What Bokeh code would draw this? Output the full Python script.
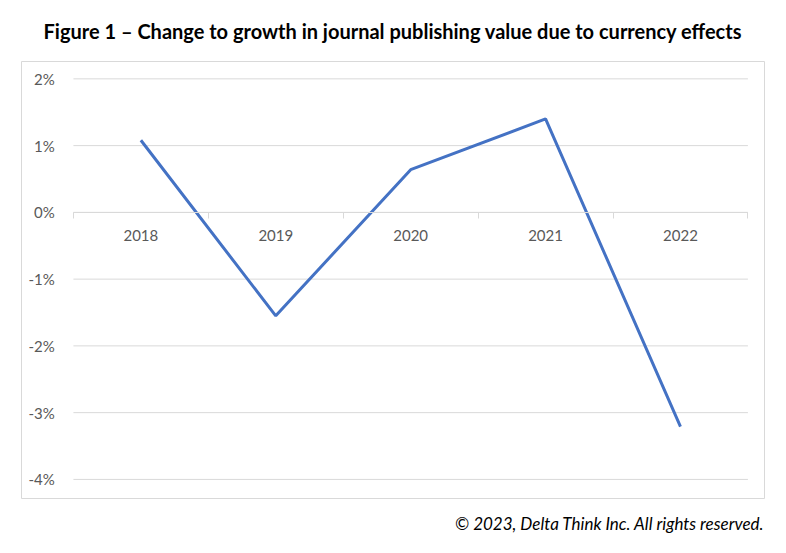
from bokeh.plotting import figure
from bokeh.models import Range1d, LinearAxis, FixedTicker, Title
from bokeh.core.properties import value
from bokeh.embed import file_html
from bokeh.resources import INLINE

years = ["2018", "2019", "2020", "2021", "2022"]
change_pct = [1.08, -1.55, 0.64, 1.40, -3.21]
y_ticks = [2, 1, 0, -1, -2, -3, -4]
y_tick_labels = ["2%", "1%", "0%", "-1%", "-2%", "-3%", "-4%"]
title_text = "Figure 1 \u2013 Change to growth in journal publishing value due to currency effects"
credit_text = "\u00a9 2023, Delta Think Inc. All rights reserved."

n = len(years)
xs = [i + 0.5 for i in range(n)]

GRID = "#D9D9D9"
LABEL = "#595959"
FONT = "Lato"

p = figure(
    output_backend="svg", toolbar_location=None,
    frame_width=743, frame_height=437,
    min_border_left=21, min_border_right=14, min_border_top=61, min_border_bottom=47,
    x_range=Range1d(-0.385, n + 0.123), y_range=Range1d(-4.286, 2.260),
    x_axis_location=None, y_axis_location=None,
)
p.grid.visible = False
p.outline_line_color = GRID
p.outline_line_width = 1

title = Title(text=title_text, align="center", vertical_align="top",
              text_font=FONT, text_font_style="bold", text_font_size="20px",
              text_color="#000000", standoff=34)
p.add_layout(title, "above")

# gridlines
p.segment(x0=[0] * len(y_ticks), x1=[n] * len(y_ticks), y0=y_ticks, y1=y_ticks,
          line_color=GRID, line_width=1)

# y labels
p.text(x=[-0.1385] * len(y_ticks), y=y_ticks, text=y_tick_labels,
       text_align="right", text_baseline="middle",
       text_font=value(FONT), text_font_size="15px", text_color=LABEL)

# x axis at y = 0
xaxis = LinearAxis(
    ticker=FixedTicker(ticks=xs, minor_ticks=list(range(n + 1))),
    major_label_overrides={x: y for x, y in zip(xs, years)},
    fixed_location=0, bounds=(0, n),
)
xaxis.axis_line_color = GRID
xaxis.major_tick_line_color = None
xaxis.major_tick_out = 0
xaxis.major_tick_in = 0
xaxis.minor_tick_line_color = GRID
xaxis.minor_tick_out = 6
xaxis.minor_tick_in = 0
xaxis.major_label_standoff = 12
xaxis.major_label_text_font = FONT
xaxis.major_label_text_font_size = "15px"
xaxis.major_label_text_color = LABEL
p.add_layout(xaxis, "below")

p.line(xs, change_pct, line_color="#4472C4", line_width=3)

credit = Title(text=credit_text, align="right", text_font=FONT,
               text_font_style="italic", text_font_size="17px",
               text_color="#000000", standoff=24)
p.add_layout(credit, "below")

open("out.html", "w").write(file_html(p, INLINE))
